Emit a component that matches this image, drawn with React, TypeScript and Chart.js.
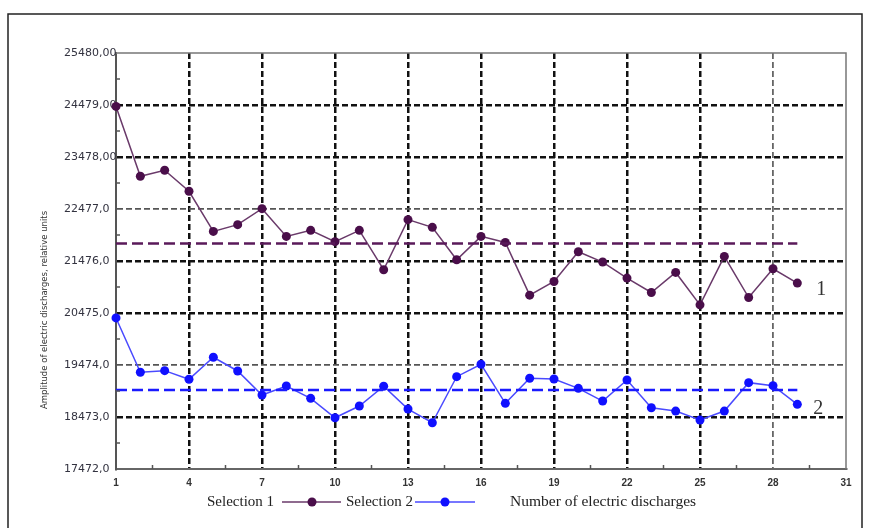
import React, { useEffect, useRef } from "react";
import { Chart, registerables } from "chart.js";

Chart.register(...registerables);

// ---- data ----
const discharges = [1, 2, 3, 4, 5, 6, 7, 8, 9, 10, 11, 12, 13, 14, 15, 16, 17, 18, 19, 20, 21, 22, 23, 24, 25, 26, 27, 28, 29];
const selection1 = [24452, 23107, 23223, 22818, 22046, 22176, 22484, 21950, 22066, 21848, 22066, 21308, 22272, 22124, 21500, 21950, 21834, 20819, 21082, 21655, 21456, 21147, 20870, 21256, 20632, 21564, 20773, 21327, 21051];
const selection2 = [20380, 19334, 19365, 19199, 19623, 19359, 18896, 19070, 18832, 18458, 18684, 19065, 18626, 18362, 19249, 19488, 18736, 19218, 19205, 19025, 18780, 19185, 18651, 18587, 18414, 18587, 19134, 19076, 18717];
const mean1 = 21812;
const mean2 = 18993;
const xTickValues = [1, 4, 7, 10, 13, 16, 19, 22, 25, 28, 31];
const yTickValues = [17472, 18473, 19474, 20475, 21476, 22477, 23478, 24479, 25480];
const yTickLabels = ["17472,0", "18473,0", "19474,0", "20475,0", "21476,0", "22477,0", "23478,00", "24479,00", "25480,00"];
const seriesNames = ["Selection 1", "Selection 2"];
const seriesTags = ["1", "2"];
const xTitle = "Number of electric discharges";
const yTitle = "Amplitude of electric discharges, relative units";

const PURPLE = "#4a0e4a";
const PURPLE_LINE = "#6a3a6a";
const BLUE = "#1010ff";
const BLUE_LINE = "#4a4aff";

const decorPlugin = {
  id: "decor",
  afterDraw(chart: any) {
    const { ctx, chartArea: a, scales } = chart;
    const x = scales.x;
    const y = scales.y;
    ctx.save();

    // plot frame top/right
    ctx.strokeStyle = "#777";
    ctx.lineWidth = 1.5;
    ctx.beginPath();
    ctx.moveTo(a.left, a.top);
    ctx.lineTo(a.right, a.top);
    ctx.lineTo(a.right, a.bottom);
    ctx.stroke();

    // minor ticks
    ctx.strokeStyle = "#555";
    ctx.lineWidth = 1.5;
    for (let i = 0; i < yTickValues.length - 1; i++) {
      const py = y.getPixelForValue((yTickValues[i] + yTickValues[i + 1]) / 2);
      ctx.beginPath();
      ctx.moveTo(a.left, py);
      ctx.lineTo(a.left + 4, py);
      ctx.stroke();
    }
    for (let i = 0; i < xTickValues.length - 1; i++) {
      const px = x.getPixelForValue((xTickValues[i] + xTickValues[i + 1]) / 2);
      ctx.beginPath();
      ctx.moveTo(px, a.bottom);
      ctx.lineTo(px, a.bottom - 4);
      ctx.stroke();
    }

    // outer border
    ctx.strokeStyle = "#222";
    ctx.lineWidth = 1.5;
    ctx.beginPath();
    ctx.moveTo(8, 540);
    ctx.lineTo(8, 14);
    ctx.lineTo(862, 14);
    ctx.lineTo(862, 540);
    ctx.stroke();

    // series tags
    ctx.fillStyle = "#333";
    ctx.font = "20px 'Liberation Serif'";
    ctx.textAlign = "center";
    ctx.textBaseline = "middle";
    const last = discharges.length - 1;
    ctx.fillText(seriesTags[0], x.getPixelForValue(discharges[last]) + 24, y.getPixelForValue(selection1[last]) + 7);
    ctx.fillText(seriesTags[1], x.getPixelForValue(discharges[last]) + 21, y.getPixelForValue(selection2[last]) + 4);

    // legend
    const ly = 502;
    ctx.font = "15px 'Liberation Serif'";
    ctx.textAlign = "left";
    ctx.fillStyle = "#222";
    ctx.fillText(seriesNames[0], 207, ly);
    ctx.strokeStyle = PURPLE_LINE;
    ctx.lineWidth = 1.5;
    ctx.beginPath();
    ctx.moveTo(282, ly);
    ctx.lineTo(341, ly);
    ctx.stroke();
    ctx.fillStyle = PURPLE;
    ctx.beginPath();
    ctx.arc(312, ly, 4.5, 0, Math.PI * 2);
    ctx.fill();
    ctx.fillStyle = "#222";
    ctx.fillText(seriesNames[1], 346, ly);
    ctx.strokeStyle = BLUE_LINE;
    ctx.beginPath();
    ctx.moveTo(415, ly);
    ctx.lineTo(475, ly);
    ctx.stroke();
    ctx.fillStyle = BLUE;
    ctx.beginPath();
    ctx.arc(445, ly, 4.5, 0, Math.PI * 2);
    ctx.fill();
    ctx.fillStyle = "#222";
    ctx.font = "15.5px 'Liberation Serif'";
    ctx.fillText(xTitle, 510, ly);

    // y title
    ctx.translate(45, 310);
    ctx.rotate(-Math.PI / 2);
    ctx.font = "8.5px 'DejaVu Sans'";
    ctx.fillStyle = "#333";
    ctx.textAlign = "center";
    ctx.fillText(yTitle, 0, 0);

    ctx.restore();
  },
};

export default function App() {
  const ref = useRef<HTMLCanvasElement | null>(null);

  useEffect(() => {
    if (!ref.current) return;
    const last = discharges.length - 1;
    const chart = new Chart(ref.current, {
      type: "line",
      data: {
        datasets: [
          {
            label: "mean 1",
            data: [
              { x: discharges[0], y: mean1 },
              { x: discharges[last], y: mean1 },
            ],
            borderColor: "#5a1a5a",
            borderWidth: 2.5,
            borderDash: [11, 5],
            pointRadius: 0,
          },
          {
            label: "mean 2",
            data: [
              { x: discharges[0], y: mean2 },
              { x: discharges[last], y: mean2 },
            ],
            borderColor: "#1a1aff",
            borderWidth: 2.5,
            borderDash: [11, 5],
            pointRadius: 0,
          },
          {
            label: seriesNames[0],
            data: discharges.map((d, i) => ({ x: d, y: selection1[i] })),
            borderColor: PURPLE_LINE,
            borderWidth: 1.5,
            pointRadius: 4.5,
            pointBackgroundColor: PURPLE,
            pointBorderColor: PURPLE,
            pointBorderWidth: 0,
            clip: false as any,
          },
          {
            label: seriesNames[1],
            data: discharges.map((d, i) => ({ x: d, y: selection2[i] })),
            borderColor: BLUE_LINE,
            borderWidth: 1.5,
            pointRadius: 4.5,
            pointBackgroundColor: BLUE,
            pointBorderColor: BLUE,
            pointBorderWidth: 0,
            clip: false as any,
          },
        ],
      },
      options: {
        animation: false,
        responsive: false,
        layout: { padding: { left: 64, right: 25, top: 53, bottom: 0 } },
        plugins: { legend: { display: false }, tooltip: { enabled: false } },
        scales: {
          x: {
            type: "linear",
            min: 1,
            max: 31,
            afterFit: (s: any) => {
              s.height = 59;
            },
            afterBuildTicks: (s: any) => {
              s.ticks = xTickValues.map((v) => ({ value: v }));
            },
            grid: {
              drawTicks: false,
              color: (c: any) => {
                const v = c.tick?.value;
                if (v === 1 || v === 31) return "rgba(0,0,0,0)";
                if (v === 28) return "#666";
                return "#111";
              },
              lineWidth: (c: any) => (c.tick?.value === 28 ? 1.8 : 2.5),
            },
            border: { display: true, color: "#666", width: 2, dash: [6, 3] },
            ticks: {
              autoSkip: false,
              maxRotation: 0,
              padding: 8,
              color: "#333",
              font: { family: "'Liberation Sans'", size: 10, weight: "bold" },
              callback: (v: any) => String(v),
            },
          },
          y: {
            type: "linear",
            min: 17472,
            max: 25480,
            afterFit: (s: any) => {
              s.width = 52;
            },
            afterBuildTicks: (s: any) => {
              s.ticks = yTickValues.map((v) => ({ value: v }));
            },
            grid: {
              drawTicks: false,
              color: (c: any) => {
                const v = c.tick?.value;
                if (v === 17472 || v === 25480) return "rgba(0,0,0,0)";
                if (v === 22477 || v === 19474) return "#555";
                return "#111";
              },
              lineWidth: (c: any) => {
                const v = c.tick?.value;
                return v === 22477 || v === 19474 ? 1.8 : 2.5;
              },
            },
            border: { display: true, color: "#555", width: 2, dash: [6, 3] },
            ticks: {
              autoSkip: false,
              crossAlign: "far",
              padding: 0,
              color: "#333340",
              font: { family: "'DejaVu Sans'", size: 11 },
              callback: (v: any) => {
                const i = yTickValues.indexOf(Number(v));
                return i >= 0 ? yTickLabels[i] : "";
              },
            },
          },
        },
      },
      plugins: [decorPlugin],
    });
    return () => chart.destroy();
  }, []);

  return (
    <div style={{ position: "fixed", left: 0, top: 0, width: 871, height: 528, background: "#fff" }}>
      <canvas ref={ref} width={871} height={528} style={{ display: "block" }} />
    </div>
  );
}
